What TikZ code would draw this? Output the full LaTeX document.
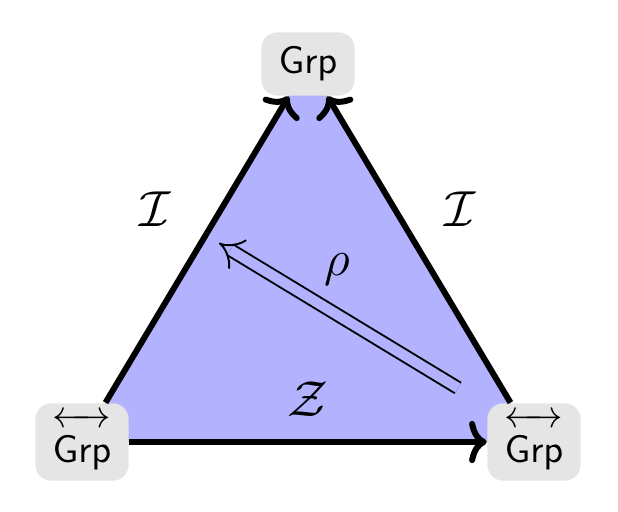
\documentclass[tikz,border=0pt]{standalone}
\usepackage{amsmath}
\usepackage{xcolor}
\usetikzlibrary{arrows.meta}

\begin{document}
\begin{tikzpicture}[
  x=0.01cm, y=0.01cm,
  font=\fontsize{11.2}{13}\selectfont,
  cat/.style={fill=black!10, rounded corners=4.5pt, inner sep=2pt, minimum width=26.5pt},
  lbl/.style={font=\fontsize{14}{16}\selectfont},
  functor/.style={draw, line width=1.7pt, -{To[length=5pt, width=12pt]}},
  twocell/.style={draw, double=blue!30, line width=0.55pt, double distance=2.9pt, -{Implies[length=5pt, width=11pt]}}
]
\useasboundingbox (0,0) rectangle (618,512);

% Corners of the triangle
\coordinate (ptop)   at (308,448);
\coordinate (pleft)  at (82,70);
\coordinate (pright) at (534,70);

% Filled face
\fill[blue!30] (ptop) -- (pleft) -- (pright) -- cycle;

% Objects
\node (grp)  [cat, minimum height=18pt] at (ptop)   {$\mathsf{Grp}$};
\node (lgrp) [cat, minimum height=22pt] at (pleft)  {$\overleftrightarrow{\rule{0pt}{10pt}\mathsf{Grp}}$};
\node (rgrp) [cat, minimum height=22pt] at (pright) {$\overleftrightarrow{\rule{0pt}{10pt}\mathsf{Grp}}$};

% Morphisms
\draw [functor] (lgrp) -- node [lbl, pos=0.63, left=10pt] {$\mathcal{I}$} (grp);
\draw [functor] (rgrp) -- node [lbl, pos=0.63, right=10pt] {$\mathcal{I}$} (grp);
\draw [functor] (lgrp) -- node [lbl, above=3pt] {$\mathcal{Z}$} (rgrp);

% 2-cell
\coordinate (rhofrom) at (458,124);
\coordinate (rhoto)   at (219,269);
\draw [twocell] (rhofrom) -- (rhoto);
\node (rho) [lbl] at (337,242) {$\rho$};

\end{tikzpicture}
\end{document}
